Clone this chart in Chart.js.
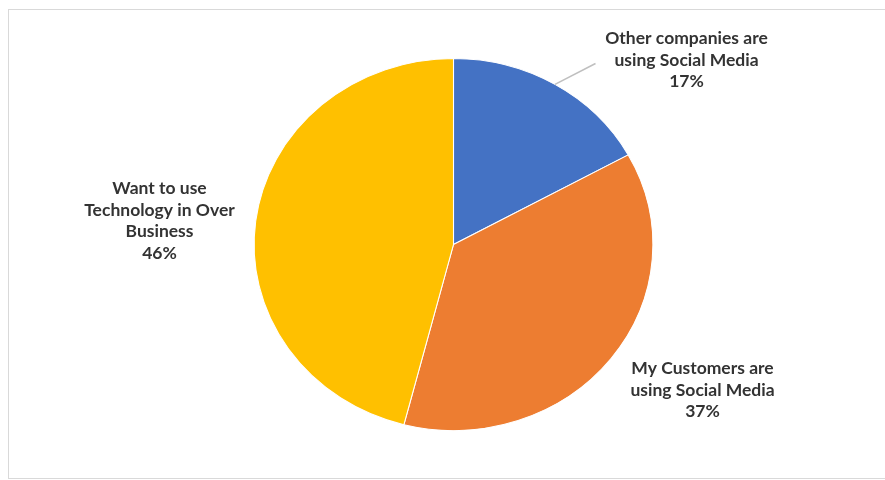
<!DOCTYPE html>
<html>
<head>
<meta charset="utf-8">
<script src="https://cdn.jsdelivr.net/npm/chart.js@4"></script>
<style>
  html, body { margin: 0; padding: 0; background: #fff; }
  #wrap { position: relative; width: 885px; height: 480px; overflow: hidden; }
  #frame { position: absolute; left: 8px; top: 9px; width: 900px; height: 470px;
           border: 1px solid #d9d9d9; box-sizing: border-box; }
  #myChart { position: absolute; left: 0; top: 0; }
</style>
</head>
<body>
<div id="wrap">
  <div id="frame"></div>
  <canvas id="myChart" width="885" height="480"></canvas>
</div>
<script>
// Datos del gráfico
const categorias = [
  ['Other companies are', 'using Social Media'],
  ['My Customers are', 'using Social Media'],
  ['Want to use', 'Technology in Over', 'Business']
];
const valores = [17, 37, 46];
const colores = ['#4472C4', '#ED7D31', '#FFC000'];

// Posición de cada etiqueta respecto al centro de la tarta (x, y de la primera línea)
const posEtiquetas = [
  { dx: 233, dy: -206, linea: true },
  { dx: 249, dy: 124, linea: false },
  { dx: -294, dy: -56, linea: false }
];

// La tarta sale algo achatada: se estira en horizontal
const escalaX = 1.072;

const estirarTarta = {
  id: 'estirarTarta',
  beforeDatasetsDraw(chart) {
    const arco = chart.getDatasetMeta(0).data[0];
    const ctx = chart.ctx;
    ctx.save();
    ctx.translate(arco.x, arco.y);
    ctx.scale(escalaX, 1);
    ctx.translate(-arco.x, -arco.y);
  },
  afterDatasetsDraw(chart) {
    chart.ctx.restore();
  }
};

const etiquetas = {
  id: 'etiquetas',
  afterDraw(chart) {
    const ctx = chart.ctx;
    const meta = chart.getDatasetMeta(0);
    const total = valores.reduce((a, b) => a + b, 0);
    ctx.save();
    ctx.font = 'bold 17.5px Lato';
    ctx.fillStyle = '#333333';
    ctx.textAlign = 'center';
    ctx.textBaseline = 'middle';
    meta.data.forEach((arco, i) => {
      const p = arco.getProps(['x', 'y', 'startAngle', 'endAngle', 'outerRadius'], true);
      const pos = posEtiquetas[i];
      const cx = p.x + pos.dx;
      const cy = p.y + pos.dy;
      const lineas = categorias[i].concat([Math.round(valores[i] / total * 100) + '%']);
      lineas.forEach((t, j) => ctx.fillText(t, cx, cy + j * 21.5));

      // línea guía desde el borde del sector hasta la etiqueta
      if (pos.linea) {
        const medio = (p.startAngle + p.endAngle) / 2;
        const x0 = p.x + Math.cos(medio) * p.outerRadius * escalaX;
        const y0 = p.y + Math.sin(medio) * p.outerRadius;
        ctx.strokeStyle = '#bfbfbf';
        ctx.lineWidth = 1.5;
        ctx.beginPath();
        ctx.moveTo(x0, y0);
        ctx.lineTo(cx - 91, cy + 25);
        ctx.stroke();
      }
    });
    ctx.restore();
  }
};

const ctx = document.getElementById('myChart').getContext('2d');

const chart = new Chart(ctx, {
  type: 'pie',
  data: {
    labels: categorias,
    datasets: [{
      data: valores,
      backgroundColor: colores,
      borderColor: '#ffffff',
      borderWidth: 1,
      offset: 0,
      hoverOffset: 0,
      clip: false
    }]
  },
  options: {
    responsive: false,
    animation: false,
    layout: {
      padding: { top: 58, bottom: 49, left: 267, right: 245 }
    },
    plugins: {
      legend: { display: false },
      tooltip: { enabled: false }
    }
  },
  plugins: [estirarTarta, etiquetas]
});
</script>
</body>
</html>
